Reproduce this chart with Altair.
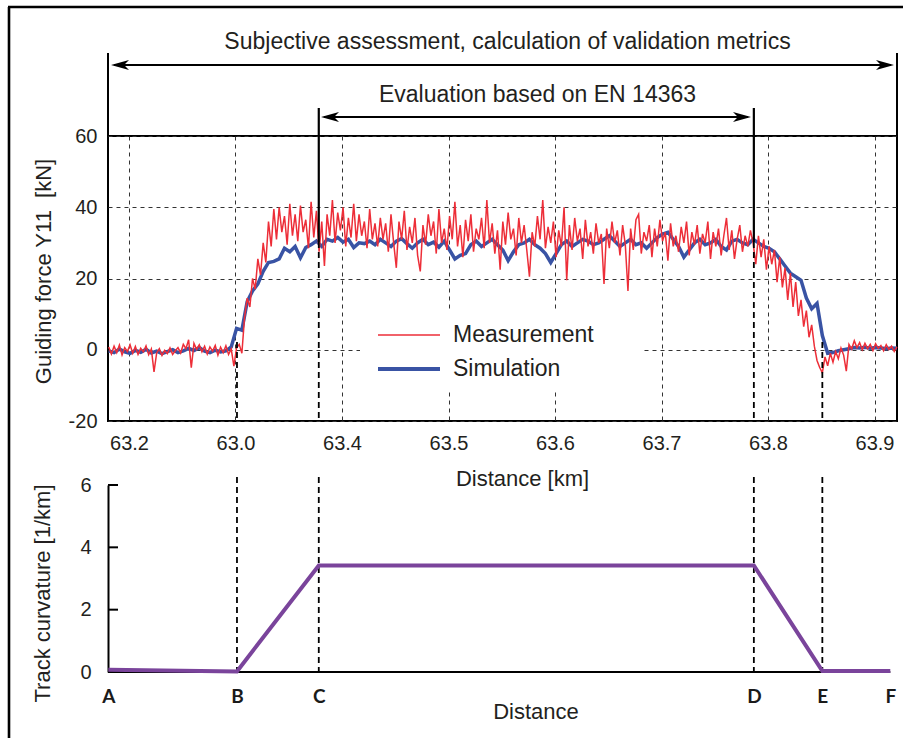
import altair as alt
import numpy as np
import pandas as pd

# ---------------- data ----------------
x_domain = [63.1803, 63.9211]
x_tick_values = [63.2, 63.3, 63.4, 63.5, 63.6, 63.7, 63.8, 63.9]
x_tick_labels = ["63.2", "63.0", "63.4", "63.5", "63.6", "63.7", "63.8", "63.9"]
y_force_ticks = [-20, 0, 20, 40, 60]
y_curv_ticks = [0, 2, 4, 6]

# measured guiding force (sampled every 2.5 m)
meas_start_km = 63.181
meas_step_km = 0.0025
measurement = [
    0.8, -1.2, 1.0, -0.8, 1.3, -1.5, 0.6, -0.5, 1.4, -1.0,
    0.9, -1.3, 0.4, -0.6, 1.1, -1.4, 0.2, -6.2, -0.9, 0.3,
    -1.6, -0.2, -1.1, 0.5, -1.3, -0.3, 0.6, -0.9, 1.5, 0.3,
    2.8, -5.0, 1.8, 0.1, 1.4, -0.6, 1.0, -1.2, 0.8, -0.4,
    1.2, -1.5, 0.7, -0.8, 1.1, -1.3, 0.2, -4.6, 0.5,
    1.5, -1.0, 9.0, 14.5, 12.0, 20.0, 17.0, 25.5, 21.0, 30.0, 24.5, 36.0, 29.0, 39.5,
    31, 40, 33, 37.5, 29.5, 41, 32, 38, 30.5, 40.5,
    33, 36.5, 28.5, 41.5, 31.5, 39, 27.5, 36, 23.5, 38,
    32, 42, 30, 38.5, 33.5, 40, 29, 37, 31.5, 41,
    30.5, 38, 32, 36, 28.5, 39.5, 31, 35.5,
    29, 37, 31, 35.5, 27.5, 38, 30, 23, 36, 31,
    39, 28, 34.5, 30, 37, 26.5, 22, 35, 29.5, 38,
    32, 36, 27, 39.5, 30, 34, 28, 37.5, 31, 41.5,
    29, 35, 26, 36.5, 30.5, 38, 27.5, 34, 31, 37,
    28.5, 42, 30, 35.5, 27, 33.5, 22.5, 36, 29.5, 38.5,
    31, 34, 26.5, 37, 30, 35, 28, 20.5, 33, 29,
    37.5, 31, 42, 28.5, 34.5, 30, 36, 26, 33.5, 29,
    40, 19.5, 35, 28, 37, 30.5, 34, 25.5, 36.5, 29,
    33, 27, 35.5, 30, 32.5, 18.5, 34, 28.5, 36, 30,
    33.5, 26.5, 35, 29.5, 16.5, 34, 28, 36.5, 38, 27,
    33, 30.5, 35, 26, 34, 29, 36.5, 30.5, 33, 25,
    35.5, 29, 32, 27.5, 34.5, 30, 36, 26.5, 33, 29.5,
    35, 27, 32.5, 30, 36, 25.5, 33,
    29, 34, 26.5, 32, 37, 28, 33.5, 25.5, 31, 35, 27.5, 32, 29, 33.5,
    30, 24, 32, 26, 31, 22.5, 29, 24, 28, 19,
    26, 17.5, 23, 14, 21.5, 12, 19, 9.5, 14, 6.5,
    11, 3.5, 7, 1, -3,
    -5, -6.5, -2, -4.5, -1, -3.5, -0.5, -2.5, 0.5, -1.5,
    -6, 1.5, 0.2, 2.5, 0.6, 2, 0, 1.8, 0.3, 1.5,
    -0.2, 1.7, 0.4, 1.2, -0.3, 1.4, 0.1, 1.0, -0.5, 0.8,
]

# simulated guiding force (sampled every 5 m)
sim_start_km = 63.181
sim_step_km = 0.005
simulation = [
    -0.3, -0.8, 0.2, -0.6, -1.0, -0.2, -0.7, 0.1, -0.9, -0.4,
    -1.1, -0.5, 0.0, -0.8, -0.3, 0.4, -0.2, 0.6, -0.4, -0.8,
    -0.1, -0.6, -0.3, 0.8,
    6.0, 5.5, 13.5, 16.5, 18.5, 22, 24.5, 24.8, 25.5, 28.5,
    27.5, 29, 25.8, 28.7, 29.5, 30.5, 29, 31, 30.5, 31.5,
    30.2, 31, 28.7, 30, 29.8,
    30.5, 29.5, 31, 30, 29, 30.5, 31.2, 29.8, 28.5, 30,
    31, 29.5, 30.2, 28.8, 30.5, 28, 25.5, 26.5, 27, 29.5,
    30.5, 29, 30, 31, 29.5, 28, 25, 27.5, 29.5, 30,
    31, 29.5, 28.5, 27, 24.5, 27, 29.5, 30.5, 29, 30,
    31, 30.5, 29.5, 30, 31, 32, 30.5, 29, 30, 31,
    29.5, 30, 28.5, 30, 31.5, 32.5, 33, 31, 29, 26,
    28, 30, 31, 29.5, 30, 31, 29, 28, 30.5, 31,
    30, 29.5, 31,
    30, 29, 28.5, 27.5, 25.5, 23.5, 21.5, 20.5, 19.5, 14.5,
    11.5, 13, 4, -1, -0.8, -0.3, 0, 0.3, 0.6, 0.5,
    0.7, 0.4, 0.6, 0.5, 0.3, 0.5, 0.4,
]

section_names = ["A", "B", "C", "D", "E", "F"]
section_km = [63.1806, 63.3014, 63.3782, 63.7867, 63.8510, 63.9148]
curvature = [0.07, 0.02, 3.42, 3.42, 0.03, 0.03]

series_names = ["Measurement", "Simulation"]
title_outer = "Subjective assessment, calculation of validation metrics"
title_inner = "Evaluation based on EN 14363"
title_force = "Guiding force Y11\u00a0\u00a0[kN]"

# ---------------- styles ----------------
FONT = "Liberation Sans"
TXT = "#231f20"
RED = "#ED2E38"
BLUE = "#3953A4"
PURPLE = "#7A449B"
W, H_UP, H_LO, GAP = 789, 285, 187, 64
LEFT, TOP = 108, 136

meas_df = pd.DataFrame({"km": meas_start_km + meas_step_km * np.arange(len(measurement)),
                        "force": measurement})
sim_df = pd.DataFrame({"km": sim_start_km + sim_step_km * np.arange(len(simulation)),
                       "force": simulation})
sec_df = pd.DataFrame({"name": section_names, "km": section_km, "curv": curvature})
one = pd.DataFrame({"n": [0]})


def label_expr(values, labels):
    parts = [f"abs(datum.value - {v}) < 0.0005 ? '{l}'" for v, l in zip(values, labels)]
    return " : ".join(parts) + " : ''"


xs = alt.Scale(domain=x_domain, nice=False, zero=False)
ys_up = alt.Scale(domain=[-20, 60], nice=False, zero=False)
ys_lo = alt.Scale(domain=[0, 6], nice=False, zero=False)

x_axis_up = alt.Axis(
    values=x_tick_values, labelExpr=label_expr(x_tick_values, x_tick_labels),
    grid=True, gridDash=[4, 4], gridColor="#333333", gridWidth=1,
    ticks=False, domain=False, labelFlush=False, labelOverlap=False,
    labelFont=FONT, labelFontSize=20, labelColor=TXT, labelPadding=12,
    title="Distance [km]", titleFont=FONT, titleFontSize=22, titleFontWeight="normal",
    titleColor=TXT, titleX=414, titleY=57, titleBaseline="middle", titleAlign="center")
y_axis_up = alt.Axis(
    values=y_force_ticks, grid=True, gridDash=[4, 4], gridColor="#333333", gridWidth=1,
    labelExpr="datum.value < 0 ? '-' + abs(datum.value) : '' + datum.value",
    ticks=False, domain=False, labelFont=FONT, labelFontSize=20, labelColor=TXT,
    labelPadding=11, title=title_force, titleFont=FONT, titleFontSize=22,
    titleFontWeight="normal", titleColor=TXT, titleX=-65, titleY=135,
    titleBaseline="middle", titleAlign="center")

# ---------------- upper panel ----------------
legend_box = alt.Chart(one).mark_rect(color="white").encode(
    x=alt.value(252), x2=alt.value(535), y=alt.value(174), y2=alt.value(256))

sim_line = alt.Chart(sim_df).mark_line(color=BLUE, strokeWidth=3.5).encode(
    x=alt.X("km:Q", scale=xs, axis=x_axis_up),
    y=alt.Y("force:Q", scale=ys_up, axis=y_axis_up))
meas_line = alt.Chart(meas_df).mark_line(color=RED, strokeWidth=1.5).encode(
    x=alt.X("km:Q", scale=xs),
    y=alt.Y("force:Q", scale=ys_up))

cd_solid = alt.Chart(sec_df).transform_filter(
    alt.FieldOneOfPredicate(field="name", oneOf=["C", "D"])
).mark_rule(color="black", strokeWidth=2.2).encode(
    x=alt.X("km:Q", scale=xs), y=alt.value(-28), y2=alt.value(106))
cd_dash = alt.Chart(sec_df).transform_filter(
    alt.FieldOneOfPredicate(field="name", oneOf=["C", "D"])
).mark_rule(color="black", strokeWidth=1.8, strokeDash=[6, 4]).encode(
    x=alt.X("km:Q", scale=xs), y=alt.value(106), y2=alt.value(H_UP))
be_dash = alt.Chart(sec_df).transform_filter(
    alt.FieldOneOfPredicate(field="name", oneOf=["B", "E"])
).mark_rule(color="black", strokeWidth=1.8, strokeDash=[6, 4]).encode(
    x=alt.X("km:Q", scale=xs), y=alt.value(206), y2=alt.value(H_UP))

leg_red = alt.Chart(one).mark_rule(color=RED, strokeWidth=1.3).encode(
    x=alt.value(270), x2=alt.value(332), y=alt.value(199))
leg_blue = alt.Chart(one).mark_rule(color=BLUE, strokeWidth=4).encode(
    x=alt.value(270), x2=alt.value(332), y=alt.value(233))
leg_t1 = alt.Chart(one).mark_text(font=FONT, fontSize=23, color=TXT, align="left",
                                  baseline="middle").encode(
    x=alt.value(345), y=alt.value(199), text=alt.value(series_names[0]))
leg_t2 = alt.Chart(one).mark_text(font=FONT, fontSize=23, color=TXT, align="left",
                                  baseline="middle").encode(
    x=alt.value(345), y=alt.value(233), text=alt.value(series_names[1]))

t_outer = alt.Chart(one).mark_text(font=FONT, fontSize=23, color=TXT, align="center",
                                   baseline="middle").encode(
    x=alt.value(399.5), y=alt.value(-94), text=alt.value(title_outer))
t_inner = alt.Chart(one).mark_text(font=FONT, fontSize=23, color=TXT, align="center",
                                   baseline="middle").encode(
    x=alt.value(429.5), y=alt.value(-41), text=alt.value(title_inner))

arrow_outer = alt.Chart(one).mark_rule(color="black", strokeWidth=1.8).encode(
    x=alt.value(6), x2=alt.value(783), y=alt.value(-71))
arrow_inner = alt.Chart(one).mark_rule(color="black", strokeWidth=1.8).encode(
    x=alt.value(216), x2=alt.value(640), y=alt.value(-19))

LEFT_HEAD = "M-1,0 L1,-0.55 L0.45,0 L1,0.55 Z"
RIGHT_HEAD = "M1,0 L-1,-0.55 L-0.45,0 L-1,0.55 Z"


def head(shape, xpos, ypos):
    return alt.Chart(one).mark_point(shape=shape, filled=True, size=324, color="black",
                                     opacity=1, strokeWidth=0).encode(
        x=alt.value(xpos), y=alt.value(ypos))


heads = [head(LEFT_HEAD, 12, -71), head(RIGHT_HEAD, 777, -71),
         head(LEFT_HEAD, 222, -19), head(RIGHT_HEAD, 634, -19)]

vert_l = alt.Chart(one).mark_rule(color="black", strokeWidth=2).encode(
    x=alt.value(0), y=alt.value(-83), y2=alt.value(0))
vert_r = alt.Chart(one).mark_rule(color="black", strokeWidth=2).encode(
    x=alt.value(W), y=alt.value(-83), y2=alt.value(0))

frame_left = alt.Chart(one).mark_rule(color="black", strokeWidth=2.6).encode(
    x=alt.value(-99), y=alt.value(-129), y2=alt.value(602))
frame_top = alt.Chart(one).mark_rule(color="black", strokeWidth=2.6).encode(
    x=alt.value(-100), x2=alt.value(795), y=alt.value(-129))

upper = alt.layer(
    sim_line, legend_box, meas_line, cd_solid, cd_dash, be_dash,
    leg_red, leg_blue, leg_t1, leg_t2, t_outer, t_inner,
    arrow_outer, arrow_inner, *heads, vert_l, vert_r, frame_left, frame_top,
).properties(width=W, height=H_UP,
             view=alt.ViewBackground(stroke="black", strokeWidth=2))

# ---------------- lower panel ----------------
x_axis_lo = alt.Axis(
    values=section_km, labelExpr=label_expr(section_km, section_names),
    grid=False, ticks=False, domain=False, labelFlush=False, labelOverlap=False,
    labelFont="Lato", labelFontWeight="bold", labelFontSize=19, labelColor="#1a1a1a",
    labelPadding=15, title="Distance", titleFont=FONT, titleFontSize=22,
    titleFontWeight="normal", titleColor=TXT, titleX=427.5, titleY=39,
    titleBaseline="middle", titleAlign="center")
y_axis_lo = alt.Axis(
    values=y_curv_ticks, grid=False, ticks=False, domain=True, domainColor="black",
    domainWidth=2, labelFont=FONT, labelFontSize=20, labelColor=TXT, labelPadding=17,
    title="Track curvature [1/km]", titleFont=FONT, titleFontSize=22,
    titleFontWeight="normal", titleColor=TXT, titleX=-65.5, titleY=108,
    titleBaseline="middle", titleAlign="center")

lo_dash = alt.Chart(sec_df).transform_filter(
    alt.FieldOneOfPredicate(field="name", oneOf=["B", "C", "D", "E"])
).mark_rule(color="black", strokeWidth=1.8, strokeDash=[6, 4]).encode(
    x=alt.X("km:Q", scale=xs), y=alt.value(-8), y2=alt.value(H_LO))

base_df = pd.DataFrame({"km": [section_km[0]], "km2": [section_km[-1]]})
base_line = alt.Chart(base_df).mark_rule(color="black", strokeWidth=2).encode(
    x=alt.X("km:Q", scale=xs), x2="km2:Q", y=alt.value(H_LO))

tick_df = pd.DataFrame({"v": y_curv_ticks})
in_ticks = alt.Chart(tick_df).mark_rule(color="black", strokeWidth=2).encode(
    y=alt.Y("v:Q", scale=ys_lo), x=alt.value(0), x2=alt.value(10))

curv_line = alt.Chart(sec_df).mark_line(color=PURPLE, strokeWidth=4).encode(
    x=alt.X("km:Q", scale=xs, axis=x_axis_lo),
    y=alt.Y("curv:Q", scale=ys_lo, axis=y_axis_lo))

lower = alt.layer(lo_dash, base_line, in_ticks, curv_line).properties(width=W, height=H_LO)

chart = alt.vconcat(upper, lower, spacing=GAP, bounds="flush").properties(
    padding={"left": LEFT, "top": TOP, "right": 907 - LEFT - W,
             "bottom": 738 - TOP},
    autosize=alt.AutoSizeParams(type="none"),
    background="white",
).configure_view(stroke="transparent")

chart.save("out.html", embed_options={"renderer": "svg", "actions": False})
